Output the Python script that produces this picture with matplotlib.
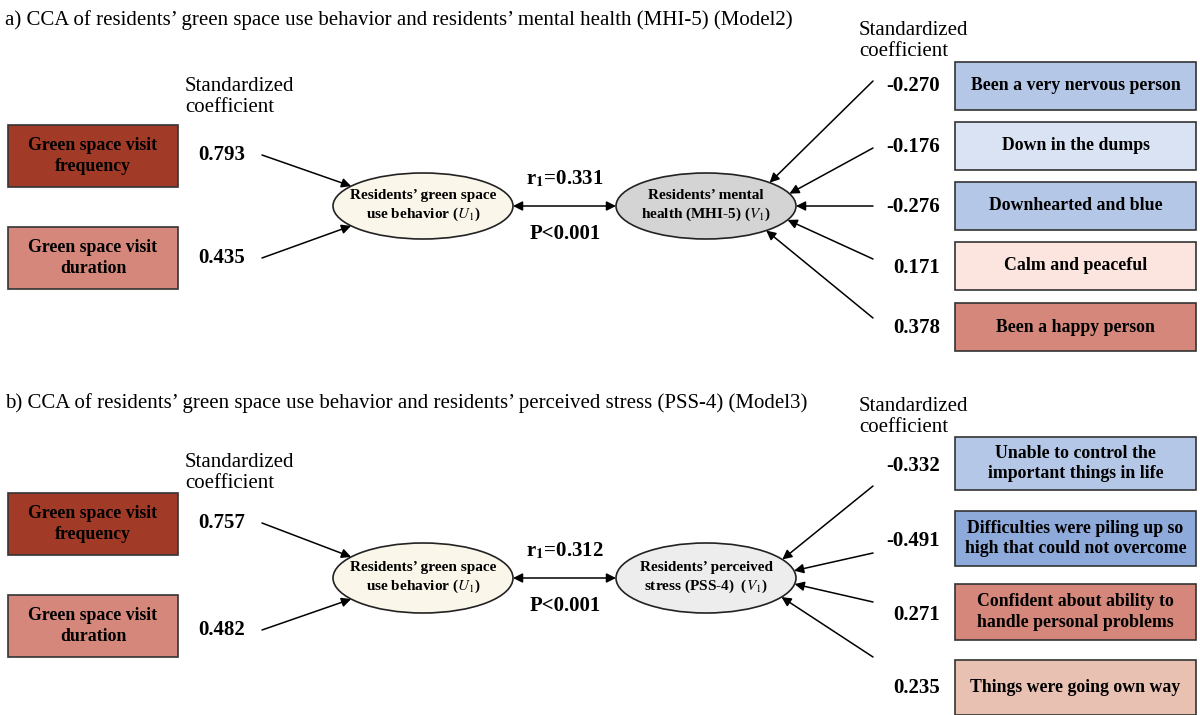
import numpy as np
import matplotlib.pyplot as plt
from matplotlib.patches import Ellipse, Rectangle

plt.rcParams['font.family'] = ['Liberation Serif', 'DejaVu Serif']
plt.rcParams['mathtext.fontset'] = 'stix'

# panel a (Model2)
a_title = "a) CCA of residents\u2019 green space use behavior and residents\u2019 mental health (MHI-5) (Model2)"
a_left_labels = ["Green space visit\nfrequency", "Green space visit\nduration"]
a_left_coef = ["0.793", "0.435"]
a_right_labels = ["Been a very nervous person", "Down in the dumps", "Downhearted and blue",
                  "Calm and peaceful", "Been a happy person"]
a_right_coef = ["-0.270", "-0.176", "-0.276", "0.171", "0.378"]
a_r = "0.331"
a_u = "Residents\u2019 green space\nuse behavior ($\\mathit{U}_1$)"
a_v = "Residents\u2019 mental\nhealth (MHI-5) ($\\mathit{V}_1$)"

# panel b (Model3)
b_title = "b) CCA of residents\u2019 green space use behavior and residents\u2019 perceived stress (PSS-4) (Model3)"
b_left_labels = ["Green space visit\nfrequency", "Green space visit\nduration"]
b_left_coef = ["0.757", "0.482"]
b_right_labels = ["Unable to control the\nimportant things in life",
                  "Difficulties were piling up so\nhigh that could not overcome",
                  "Confident about ability to\nhandle personal problems",
                  "Things were going own way"]
b_right_coef = ["-0.332", "-0.491", "0.271", "0.235"]
b_r = "0.312"
b_v = "Residents\u2019 perceived\nstress (PSS-4)  ($\\mathit{V}_1$)"

left_colors = ['#a23a28', '#d4877a']
a_right_colors = ['#b4c7e7', '#dae3f3', '#b4c7e7', '#fbe5de', '#d4877a']
b_right_colors = ['#b4c7e7', '#8eaadb', '#d4877a', '#e9c1b3']

fig = plt.figure(figsize=(12, 7.15), dpi=100)
ax = fig.add_axes([0, 0, 1, 1])
ax.set_xlim(0, 1200)
ax.set_ylim(715, 0)
ax.axis('off')

BOLD = dict(fontweight='bold', ha='center', va='center')


def box(x0, y0, w, h, color, text, fs=12.8):
    ax.add_patch(Rectangle((x0, y0), w, h, facecolor=color, edgecolor='#333333', lw=1.2))
    ax.text(x0 + w / 2, y0 + h / 2, text, fontsize=fs, linespacing=1.27, **BOLD)


def arrow(p0, p1, both=False):
    ax.annotate('', xy=p1, xytext=p0,
                arrowprops=dict(arrowstyle='<|-|>' if both else '-|>', color='black',
                                lw=1.1, mutation_scale=14, shrinkA=0, shrinkB=0))


def on_ell(cx, cy, a, b, deg):
    t = np.deg2rad(deg)
    return (cx + a * np.cos(t), cy - b * np.sin(t))


def panel(title, ty, left_labels, left_coef, left_y, coef_y, cy, eb,
          r, u_text, v_text, v_color, right_labels, right_coef, right_colors,
          right_box, right_val_y, arrow_y, right_angles, std_left_y, std_right_y):
    ax.text(5, ty, title, fontsize=15, ha='left', va='center')
    ax.text(185, std_left_y, 'Standardized\ncoefficient', fontsize=15, ha='left',
            va='center', linespacing=1.2)
    ax.text(859, std_right_y, 'Standardized\ncoefficient', fontsize=15, ha='left',
            va='center', linespacing=1.2)

    ux, vx, ea = 423, 706, 90
    ax.add_patch(Ellipse((ux, cy), 2 * ea, 2 * eb, facecolor='#fbf6ea', edgecolor='#222222', lw=1.2))
    ax.add_patch(Ellipse((vx, cy), 2 * ea, 2 * eb, facecolor=v_color, edgecolor='#222222', lw=1.2))
    ax.text(ux, cy, u_text, fontsize=11, linespacing=1.3, **BOLD)
    ax.text(vx, cy, v_text, fontsize=11, linespacing=1.3, **BOLD)

    for lab, c, y0, y1, col, ang in zip(left_labels, left_coef, left_y, coef_y,
                                         left_colors, [143, 217]):
        box(8, y0, 170, 62, col, lab)
        ax.text(222, y1, c, fontsize=15, **BOLD)
        arrow((262, y1), on_ell(ux, cy, ea, eb, ang))

    arrow((ux + ea, cy), (vx - ea, cy), both=True)
    ax.text(565, cy - 27, 'r$_\\mathbf{1}$=' + r, fontsize=15, **BOLD)
    ax.text(565, cy + 28, 'P<0.001', fontsize=15, **BOLD)

    for lab, c, (y0, h), vy, sy, col, ang in zip(right_labels, right_coef, right_box,
                                                  right_val_y, arrow_y, right_colors,
                                                  right_angles):
        box(955, y0, 241, h, col, lab)
        ax.text(940, vy, c, fontsize=15, fontweight='bold', ha='right', va='center')
        arrow((873, sy), on_ell(vx, cy, ea, eb, ang))


panel(a_title, 20, a_left_labels, a_left_coef, [125, 227], [155, 258], 206, 33,
      a_r, a_u, a_v, '#d4d4d4', a_right_labels, a_right_coef, a_right_colors,
      [(62, 48), (122, 48), (182, 48), (242, 48), (303, 48)],
      [86, 147, 207, 268, 328], [81, 148, 206, 259, 318], [45, 22, 0, -25, -48], 97, 41)

panel(b_title, 403, b_left_labels, b_left_coef, [493, 595], [523, 630], 578, 35,
      b_r, a_u, b_v, '#ededed', b_right_labels, b_right_coef, b_right_colors,
      [(437, 53), (511, 55), (584, 56), (660, 55)],
      [466, 541, 615, 688], [486, 553, 602, 657], [32, 12, -10, -33], 473, 417)

fig.savefig('out.png', dpi=100)
